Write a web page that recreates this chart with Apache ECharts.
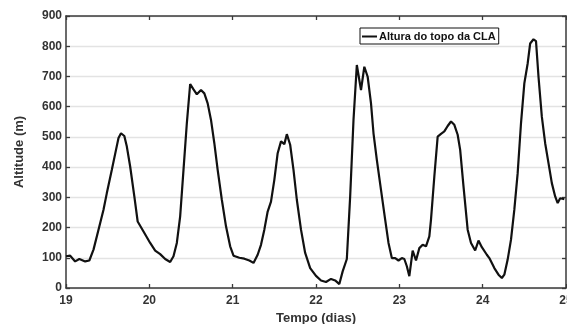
<!DOCTYPE html>
<html>
<head>
<meta charset="utf-8">
<script src="https://cdn.jsdelivr.net/npm/echarts@6/dist/echarts.min.js"></script>
<style>
  html, body { margin: 0; padding: 0; background: #fff; }
  #chart { width: 567px; height: 324px; }
</style>
</head>
<body>
<div id="chart"></div>
<script>
// Altura do topo da CLA
const days = [
  19.00, 19.05, 19.11, 19.16, 19.23, 19.28, 19.33, 19.39, 19.45, 19.49,
  19.55, 19.60, 19.63, 19.66, 19.70, 19.73, 19.77, 19.82, 19.86, 19.93,
  20.01, 20.07, 20.13, 20.19, 20.25, 20.29, 20.33, 20.37, 20.41, 20.45,
  20.49, 20.53, 20.57, 20.62, 20.66, 20.70, 20.74, 20.78, 20.82, 20.87,
  20.92, 20.97, 21.01, 21.08, 21.14, 21.20, 21.25, 21.30, 21.34, 21.38,
  21.42, 21.46, 21.50, 21.54, 21.58, 21.62, 21.65, 21.69, 21.73, 21.77,
  21.82, 21.87, 21.93, 22.00, 22.06, 22.12, 22.18, 22.23, 22.28, 22.32,
  22.37, 22.41, 22.45, 22.49, 22.54, 22.58, 22.62, 22.66, 22.69, 22.73,
  22.78, 22.83, 22.87, 22.91, 22.95, 22.99, 23.03, 23.06, 23.09, 23.12,
  23.16, 23.20, 23.24, 23.28, 23.32, 23.36, 23.38, 23.42, 23.46, 23.50,
  23.54, 23.58, 23.62, 23.66, 23.70, 23.73, 23.77, 23.82, 23.86, 23.91,
  23.95, 23.99, 24.05, 24.08, 24.14, 24.19, 24.23, 24.26, 24.30, 24.34,
  24.38, 24.42, 24.46, 24.50, 24.54, 24.57, 24.61, 24.64, 24.67, 24.71,
  24.75, 24.79, 24.83, 24.87, 24.90, 24.93, 24.98
];
const altitude = [
  105, 107, 88, 96, 88, 91, 127, 193, 259, 314,
  391, 457, 496, 512, 503, 468, 402, 303, 220, 187,
  149, 124, 112, 96, 86, 105, 149, 237, 391, 545,
  675, 657, 641, 655, 644, 611, 556, 479, 391, 292,
  204, 138, 107, 100, 97, 91, 83, 110, 143, 193,
  253, 286, 358, 446, 485, 476, 509, 474, 391, 292,
  193, 116, 66, 40, 25, 20, 30, 25, 13, 55,
  96, 303, 556, 738, 655, 732, 699, 611, 512, 424,
  325, 226, 149, 99, 99, 91, 99, 96, 72, 39,
  124, 91, 132, 143, 138, 171, 226, 369, 501, 510,
  518, 536, 551, 540, 507, 457, 336, 193, 149, 124,
  157, 135, 110, 99, 66, 44, 33, 44, 94, 160,
  259, 380, 545, 677, 743, 809, 823, 817, 699, 567,
  479, 413, 347, 303, 281, 297, 294
];
const seriesName = 'Altura do topo da CLA';

const FONT = '"Liberation Sans", Arial, sans-serif';
const AXIS = '#3a3a3a';

const chart = echarts.init(document.getElementById('chart'), null, { renderer: 'canvas' });

const tickIn = { show: true, inside: true, length: 4, lineStyle: { color: AXIS, width: 1.3 } };

chart.setOption({
  backgroundColor: '#fff',
  animation: false,
  textStyle: { fontFamily: FONT },
  grid: {
    left: 66, right: 1, top: 16, bottom: 36,
    containLabel: false, outerBoundsMode: 'none'
  },
  legend: {
    data: [{ name: seriesName, icon: 'rect' }],
    left: 360,
    top: 28,
    padding: [3, 3, 2, 2],
    itemWidth: 15,
    itemHeight: 2,
    borderColor: '#111',
    borderWidth: 1,
    borderRadius: 0,
    backgroundColor: '#fff',
    textStyle: { fontFamily: FONT, fontSize: 11, fontWeight: 'bold', color: '#111', padding: [0, 0, 0, -3] }
  },
  xAxis: [{
    type: 'value',
    min: 19,
    max: 25,
    interval: 1,
    name: 'Tempo (dias)',
    nameLocation: 'middle',
    nameGap: 21,
    nameTextStyle: { fontFamily: FONT, fontSize: 13, fontWeight: 'bold', color: '#333' },
    axisLine: { show: true, onZero: false, lineStyle: { color: AXIS, width: 1.5 } },
    axisTick: tickIn,
    axisLabel: {
      margin: 7, fontFamily: FONT, fontSize: 12, fontWeight: 'bold', color: '#333',
      showMaxLabel: true, hideOverlap: false,
      formatter: function (v) { return String(v); }
    },
    splitLine: { show: false }
  }, {
    type: 'value',
    position: 'top',
    min: 19,
    max: 25,
    interval: 1,
    axisLine: { show: true, onZero: false, lineStyle: { color: AXIS, width: 1.5 } },
    axisTick: tickIn,
    axisLabel: { show: false },
    splitLine: { show: false }
  }],
  yAxis: [{
    type: 'value',
    min: 0,
    max: 900,
    interval: 100,
    name: 'Altitude (m)',
    nameLocation: 'middle',
    nameGap: 40,
    nameTextStyle: { fontFamily: FONT, fontSize: 13, fontWeight: 'bold', color: '#333' },
    axisLine: { show: true, lineStyle: { color: AXIS, width: 1.5 } },
    axisTick: tickIn,
    axisLabel: { margin: 4, fontFamily: FONT, fontSize: 12, fontWeight: 'bold', color: '#333' },
    splitLine: { show: true, lineStyle: { color: '#e3e3e3', width: 1.3 } }
  }, {
    type: 'value',
    position: 'right',
    min: 0,
    max: 900,
    interval: 100,
    axisLine: { show: true, lineStyle: { color: AXIS, width: 1.5 } },
    axisTick: tickIn,
    axisLabel: { show: false },
    splitLine: { show: false }
  }],
  series: [{
    name: seriesName,
    type: 'line',
    xAxisIndex: 0,
    yAxisIndex: 0,
    data: days.map((d, i) => [d, altitude[i]]),
    symbol: 'none',
    showSymbol: false,
    smooth: false,
    lineStyle: { color: '#111', width: 2.2 },
    itemStyle: { color: '#111' }
  }]
});
</script>
</body>
</html>
